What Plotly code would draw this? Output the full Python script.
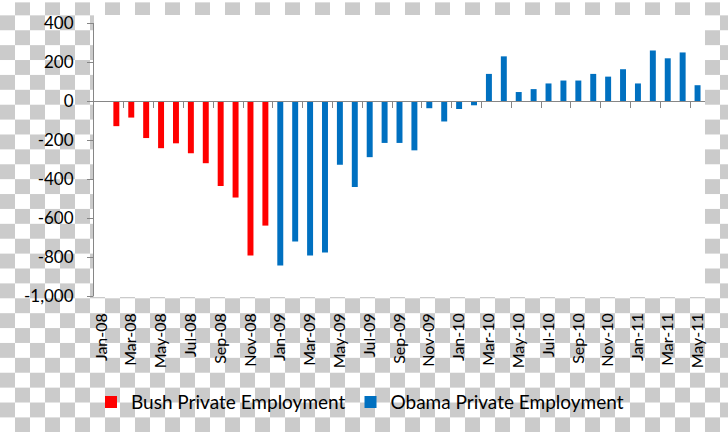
import base64
import plotly.graph_objects as go

# ---------------- data ----------------
months = [
    "Jan-08", "Feb-08", "Mar-08", "Apr-08", "May-08", "Jun-08", "Jul-08", "Aug-08",
    "Sep-08", "Oct-08", "Nov-08", "Dec-08",
    "Jan-09", "Feb-09", "Mar-09", "Apr-09", "May-09", "Jun-09", "Jul-09", "Aug-09",
    "Sep-09", "Oct-09", "Nov-09", "Dec-09",
    "Jan-10", "Feb-10", "Mar-10", "Apr-10", "May-10", "Jun-10", "Jul-10", "Aug-10",
    "Sep-10", "Oct-10", "Nov-10", "Dec-10",
    "Jan-11", "Feb-11", "Mar-11", "Apr-11", "May-11",
]
bush_months = months[:12]
obama_months = months[12:]

bush_values = [0, -129, -85, -190, -242, -217, -268, -319, -436, -495, -792, -639]
obama_values = [-844, -720, -792, -777, -327, -441, -288, -215, -215, -253, -37, -105,
                -41, -22, 139, 229, 46, 61, 90, 105, 105, 139, 125, 163,
                90, 259, 219, 249, 81]

x_tick_labels = months[::2]
y_tick_values = [400, 200, 0, -200, -400, -600, -800, -1000]
y_tick_text = ["400", "200", "0", "-200", "-400", "-600", "-800", "-1,000"]

series_names = ["Bush Private Employment", "Obama Private Employment"]

# ---------------- layout geometry ----------------
W, H = 728, 433
ML, MR, MT, MB = 94, 23, 21, 137
PW, PH = W - ML - MR, H - MT - MB
FONT = "Lato, 'Open Sans', sans-serif"
AXIS_GREY = "#868686"

# checkerboard background (transparency pattern)
svg = (
    f"<svg xmlns='http://www.w3.org/2000/svg' width='{W}' height='{H}'>"
    "<defs><pattern id='p' width='30' height='30' patternUnits='userSpaceOnUse' x='0' y='-1.7'>"
    "<rect width='30' height='30' fill='#ffffff'/>"
    "<rect x='15' y='0' width='15' height='15' fill='#cbcbcb'/>"
    "<rect x='0' y='15' width='15' height='15' fill='#cbcbcb'/>"
    "</pattern></defs>"
    f"<rect width='{W}' height='{H}' fill='url(#p)'/></svg>"
)
bg_src = "data:image/svg+xml;base64," + base64.b64encode(svg.encode()).decode()

fig = go.Figure()
fig.add_trace(go.Bar(x=bush_months, y=bush_values, name=series_names[0],
                     marker=dict(color="#FF0000", line=dict(width=0)), hoverinfo="x+y"))
fig.add_trace(go.Bar(x=obama_months, y=obama_values, name=series_names[1],
                     marker=dict(color="#0070C0", line=dict(width=0)), hoverinfo="x+y"))
# helper trace so the zero-line axis (with tick marks) is drawn
fig.add_trace(go.Scatter(x=[None], y=[None], xaxis="x2", yaxis="y", showlegend=False,
                         hoverinfo="skip", mode="markers"))

n = len(months)
fig.update_layout(
    width=W, height=H,
    margin=dict(l=ML, r=MR, t=MT, b=MB, pad=0),
    paper_bgcolor="white",
    plot_bgcolor="rgba(0,0,0,0)",
    barmode="relative",
    bargap=0.6,
    font=dict(family=FONT, color="black"),
    xaxis=dict(
        type="category", categoryorder="array", categoryarray=months,
        range=[-0.5, n - 0.5],
        tickmode="array", tickvals=x_tick_labels, ticktext=x_tick_labels,
        tickangle=-90, ticks="", showline=False, showgrid=False, zeroline=False,
        tickfont=dict(family=FONT, size=16, color="black"),
        ticklabelstandoff=13,
    ),
    xaxis2=dict(
        overlaying="x", anchor="free", position=1000 / 1400, side="bottom",
        type="linear", range=[-0.5, n - 0.5],
        tickmode="array", tickvals=[k - 0.5 for k in range(2, n, 2)],
        ticks="outside", ticklen=6, tickcolor=AXIS_GREY, tickwidth=1,
        showticklabels=False, showline=True, linecolor=AXIS_GREY, linewidth=1,
        showgrid=False, zeroline=False,
    ),
    yaxis=dict(
        range=[-1000, 400],
        tickmode="array", tickvals=y_tick_values, ticktext=y_tick_text,
        ticks="outside", ticklen=6, tickcolor=AXIS_GREY, tickwidth=1,
        showline=True, linecolor=AXIS_GREY, linewidth=1,
        showgrid=False, zeroline=False,
        tickfont=dict(family=FONT, size=17, color="black"),
        ticklabelstandoff=10,
    ),
    legend=dict(
        orientation="h", x=-3 / PW, xanchor="left", y=(296 - 403) / PH, yanchor="middle",
        bgcolor="rgba(0,0,0,0)", borderwidth=0,
        font=dict(family=FONT, size=19, color="black"),
        traceorder="normal",
    ),
    images=[dict(
        source=bg_src, xref="paper", yref="paper",
        x=-ML / PW, y=1 + MT / PH, sizex=W / PW, sizey=H / PH,
        xanchor="left", yanchor="top", sizing="stretch", layer="below",
    )],
    shapes=[dict(
        type="rect", xref="paper", yref="paper",
        x0=0, x1=1, y0=-1 / PH, y1=1 + 8 / PH,
        fillcolor="white", line=dict(width=0), layer="below",
    )],
)

fig.write_html(
    "out.html",
    config={"displayModeBar": False},
    post_script="document.body.style.margin='0';document.body.style.padding='0';",
)
